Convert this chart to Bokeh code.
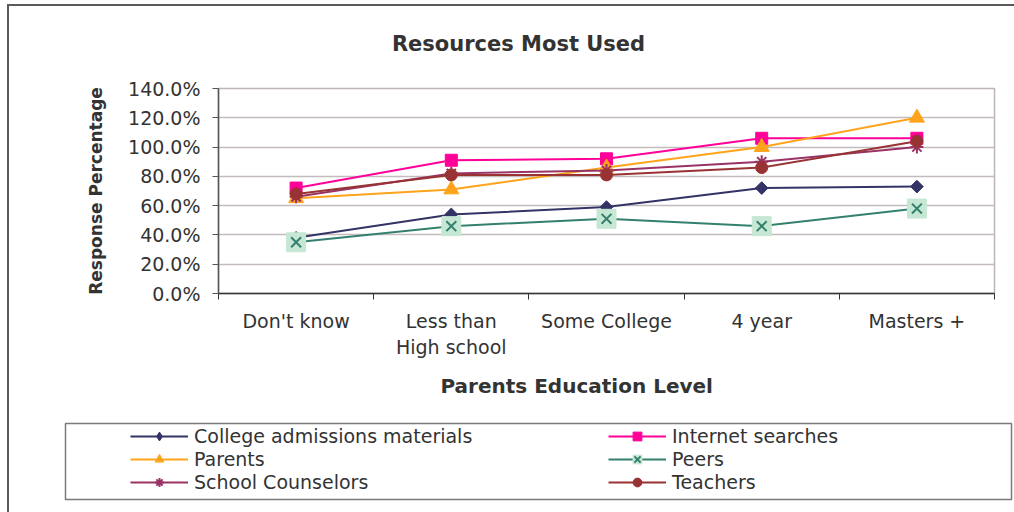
from bokeh.plotting import figure
from bokeh.models import FixedTicker, PrintfTickFormatter, Title, Legend, LegendItem, ColumnDataSource, Label
from bokeh.layouts import column
from bokeh.embed import file_html
from bokeh.resources import INLINE

# ---- data (response percentages) ----
categories = ["Don't know", "Less than\nHigh school", "Some College", "4 year", "Masters +"]
college = [38, 54, 59, 72, 73]
internet = [72, 91, 92, 106, 106]
parents = [65, 71, 86, 100, 120]
peers = [35, 46, 51, 46, 58]
counselors = [66, 82, 84, 90, 100]
teachers = [68, 81, 81, 86, 104]
y_ticks = [0, 20, 40, 60, 80, 100, 120, 140]

series_names = ["College admissions materials", "Internet searches", "Parents",
                "Peers", "School Counselors", "Teachers"]
series_values = [college, internet, parents, peers, counselors, teachers]

xpos = [i + 0.5 for i in range(len(categories))]

FONT = "DejaVu Sans"
TXT = "#333333"

styles = {
    "College admissions materials": dict(color="#333366", marker="square", size=9, angle=0.785398),
    "Internet searches": dict(color="#ff0099", marker="square", size=12, angle=0),
    "Parents": dict(color="#ffa31a", marker="triangle", size=15, angle=0),
    "Peers": dict(color="#33806e", marker="x", size=14, angle=0),
    "School Counselors": dict(color="#993366", marker="asterisk", size=13, angle=0),
    "Teachers": dict(color="#993333", marker="circle", size=12, angle=0),
}


def add_series(fig, src, name, legend=False):
    st = styles[name]
    rs = [fig.line("x", "y", source=src, line_color=st["color"], line_width=2)]
    if name == "Peers":
        rs.append(fig.scatter("x", "y", source=src, marker="square", size=19,
                              fill_color="#c6e7d3", line_color="#c6e7d3"))
        rs.append(fig.scatter("x", "y", source=src, marker="x", size=st["size"],
                              line_color=st["color"], line_width=2))
    elif name == "School Counselors":
        rs.append(fig.scatter("x", "y", source=src, marker="asterisk", size=st["size"],
                              line_color=st["color"], line_width=2))
    elif legend and st["angle"]:
        rs.append(fig.scatter("x", "y", source=src, marker="diamond", size=st["size"],
                              fill_color=st["color"], line_color=st["color"]))
    else:
        rs.append(fig.scatter("x", "y", source=src, marker=st["marker"], size=st["size"],
                              angle=st["angle"], fill_color=st["color"], line_color=st["color"]))
    return rs


# ---- title strip ----
hf = figure(width=1005, height=66, x_range=(0, 1), y_range=(0, 1),
            toolbar_location=None, output_backend="svg",
            x_axis_location=None, y_axis_location=None,
            min_border_left=0, min_border_right=0, min_border_top=0, min_border_bottom=0)
hf.frame_align = False
hf.grid.visible = False
hf.outline_line_color = None
hf.add_layout(Label(text="Resources Most Used", x=509, y=29, x_units="screen", y_units="screen",
                    text_align="center", text_baseline="middle",
                    text_font=FONT, text_font_style="bold", text_font_size="21px",
                    text_color=TXT))

# ---- main chart ----
p = figure(width=1005, height=338, x_range=(0, 5), y_range=(0, 140),
           toolbar_location=None, output_backend="svg",
           min_border_left=209, min_border_right=20, min_border_top=16, min_border_bottom=117)
p.frame_align = False
p.background_fill_color = "white"
p.border_fill_color = "white"
p.outline_line_color = "#bdb5b5"
p.outline_line_width = 1.5

for name, vals in zip(series_names, series_values):
    add_series(p, ColumnDataSource(data=dict(x=xpos, y=vals)), name)

p.xgrid.visible = False
p.ygrid.grid_line_color = "#c4bcbc"
p.ygrid.grid_line_width = 1.5
p.ygrid.ticker = FixedTicker(ticks=y_ticks)

xa = p.xaxis[0]
xa.ticker = FixedTicker(ticks=xpos, minor_ticks=list(range(len(categories) + 1)))
xa.major_label_overrides = {x: c for x, c in zip(xpos, categories)}
xa.major_tick_out = 0
xa.major_tick_in = 0
xa.minor_tick_out = 6
xa.minor_tick_in = 0
xa.minor_tick_line_color = "#333333"
xa.axis_line_color = "#333333"
xa.axis_line_width = 1.5
xa.major_label_standoff = 10
xa.major_label_text_font = FONT
xa.major_label_text_font_size = "19px"
xa.major_label_text_color = TXT
xa.major_label_text_line_height = 1.22

ya = p.yaxis[0]
ya.ticker = FixedTicker(ticks=y_ticks)
ya.formatter = PrintfTickFormatter(format="%.1f%%")
ya.major_tick_out = 6
ya.major_tick_in = 0
ya.minor_tick_out = 0
ya.minor_tick_in = 0
ya.major_tick_line_color = "#555555"
ya.axis_line_color = "#555555"
ya.axis_line_width = 1.5
ya.major_label_standoff = 12
ya.major_label_text_font = FONT
ya.major_label_text_font_size = "19px"
ya.major_label_text_color = TXT
ya.axis_label = "Response Percentage"
ya.axis_label_text_font = FONT
ya.axis_label_text_font_style = "bold"
ya.axis_label_text_font_size = "17px"
ya.axis_label_text_color = TXT
ya.axis_label_standoff = 19

xtitle = Title(text="Parents Education Level", align="left", offset=222,
               text_font=FONT, text_font_style="bold", text_font_size="20px",
               text_color=TXT, standoff=20)
p.add_layout(xtitle, "below")

# ---- legend box ----
lf = figure(width=1005, height=102, x_range=(0, 1), y_range=(0, 1),
            toolbar_location=None, output_backend="svg",
            x_axis_location=None, y_axis_location=None,
            min_border_left=56, min_border_right=3, min_border_top=13, min_border_bottom=13)
lf.frame_align = False
lf.grid.visible = False
lf.outline_line_color = "#7a7a7a"
lf.outline_line_width = 1.5

items = {}
for name in series_names:
    # legend-only renderers: a single undefined point, nothing is drawn in the box
    rs = add_series(lf, ColumnDataSource(data=dict(x=[float("nan")], y=[float("nan")])), name,
                    legend=True)
    items[name] = LegendItem(label=name, renderers=rs)


def make_legend(names, vx):
    return Legend(items=[items[n] for n in names], location=(vx, 6),
                  padding=0, margin=0, spacing=1,
                  glyph_width=58, glyph_height=22, label_height=22, label_standoff=6,
                  label_text_font=FONT, label_text_font_size="19px", label_text_color=TXT,
                  border_line_alpha=0, background_fill_alpha=0)


lf.add_layout(make_legend(["College admissions materials", "Parents", "School Counselors"], 65))
lf.add_layout(make_legend(["Internet searches", "Peers", "Teachers"], 543))

layout = column(hf, p, lf, spacing=0,
                styles={"margin-left": "7px", "margin-top": "4px",
                        "border-left": "2px solid #5a5a5a", "border-top": "2px solid #5a5a5a"})

open("out.html", "w").write(file_html(layout, INLINE))
